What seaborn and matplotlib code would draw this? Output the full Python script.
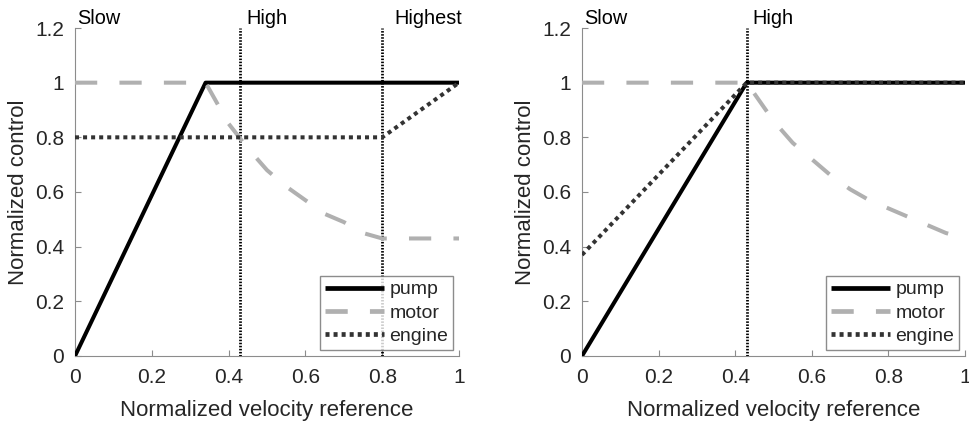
import matplotlib
matplotlib.use("Agg")
import matplotlib.pyplot as plt
import seaborn as sns
import pandas as pd

# ---- data ----
# left panel (three modes)
L_pump_x = [0.0, 0.34, 1.0]
L_pump_y = [0.0, 1.0, 1.0]
L_motor_x = [0.0, 0.34, 0.40, 0.45, 0.50, 0.55, 0.60, 0.65, 0.70, 0.75, 0.80, 1.0]
L_motor_y = [1.0, 1.0, 0.85, 0.76, 0.68, 0.62, 0.57, 0.52, 0.49, 0.45, 0.43, 0.43]
L_engine_x = [0.0, 0.80, 1.0]
L_engine_y = [0.80, 0.80, 1.0]
L_modes_x = [0.43, 0.80]
L_mode_labels = ["Slow", "High", "Highest"]

# right panel (two modes)
R_pump_x = [0.0, 0.43, 1.0]
R_pump_y = [0.0, 1.0, 1.0]
R_motor_x = [0.0, 0.43, 0.50, 0.55, 0.60, 0.65, 0.70, 0.75, 0.80, 0.85, 0.90, 0.95, 1.0]
R_motor_y = [1.0, 1.0, 0.86, 0.78, 0.72, 0.66, 0.61, 0.57, 0.54, 0.51, 0.48, 0.45, 0.43]
R_engine_x = [0.0, 0.43, 1.0]
R_engine_y = [0.37, 1.0, 1.0]
R_modes_x = [0.43]
R_mode_labels = ["Slow", "High"]

x_ticks = [0, 0.2, 0.4, 0.6, 0.8, 1]
x_ticklabels = ["0", "0.2", "0.4", "0.6", "0.8", "1"]
y_ticks = [0, 0.2, 0.4, 0.6, 0.8, 1, 1.2]
y_ticklabels = ["0", "0.2", "0.4", "0.6", "0.8", "1", "1.2"]
series_names = ["pump", "motor", "engine"]

sns.set_style("ticks")
plt.rcParams["font.family"] = ["Liberation Sans", "DejaVu Sans"]
plt.rcParams["lines.scale_dashes"] = False

TXT = "#262626"
AX = "#8c8c8c"
styles = {
    "pump": dict(color="black", lw=2.9, dashes=None),
    "motor": dict(color="#b0b0b0", lw=2.9, dashes=(16, 16)),
    "engine": dict(color="#333333", lw=2.9, dashes=(2.9, 2.9)),
}

fig = plt.figure(figsize=(9.69, 4.23), dpi=100)
axL = fig.add_axes([0.0774, 0.1584, 0.3963, 0.7754])
axR = fig.add_axes([0.6006, 0.1584, 0.3953, 0.7754])


def draw(ax, px, py, mx, my, ex, ey, modes, labels):
    data = {"pump": (px, py), "motor": (mx, my), "engine": (ex, ey)}
    for v in modes:
        ax.axvline(v, color="black", lw=2.0, ls=(0, (1.1, 1.1)), zorder=1)
    for name in series_names:
        xs, ys = data[name]
        df = pd.DataFrame({"x": xs, "y": ys})
        st = styles[name]
        sns.lineplot(data=df, x="x", y="y", ax=ax, color=st["color"], lw=st["lw"],
                     label=name, sort=False, estimator=None, zorder=3)
        line = ax.lines[-1]
        if st["dashes"] is not None:
            line.set_dashes(st["dashes"])
        line.set_solid_capstyle("butt")
        line.set_dash_capstyle("butt")
    ax.set_xlim(0, 1)
    ax.set_ylim(0, 1.2)
    ax.set_xticks(x_ticks)
    ax.set_xticklabels(x_ticklabels)
    ax.set_yticks(y_ticks)
    ax.set_yticklabels(y_ticklabels)
    ax.tick_params(direction="in", length=4, width=0.8, color=AX, labelsize=15,
                   labelcolor=TXT)
    ax.tick_params(axis="x", pad=9)
    ax.tick_params(axis="y", pad=8)
    for s in ["top", "right"]:
        ax.spines[s].set_visible(False)
    for s in ["left", "bottom"]:
        ax.spines[s].set_color(AX)
        ax.spines[s].set_linewidth(0.8)
    ax.set_xlabel("Normalized velocity reference", fontsize=16, color=TXT, labelpad=9)
    ax.set_ylabel("Normalized control", fontsize=16, color=TXT, labelpad=4)
    # mode labels above axes
    ax.text(0.005, 1.03, labels[0], transform=ax.transAxes, ha="left", va="center",
            fontsize=14.3, color="black")
    ax.text(modes[0] + 0.015, 1.03, labels[1], transform=ax.get_xaxis_transform(),
            ha="left", va="center", fontsize=14.3, color="black")
    if len(labels) > 2:
        ax.text(1.007, 1.03, labels[2], transform=ax.transAxes, ha="right",
                va="center", fontsize=14.3, color="black")
    leg = ax.legend(loc="lower right", frameon=True, fancybox=False, fontsize=14,
                    handlelength=3.0, handletextpad=0.3, borderaxespad=0.3,
                    borderpad=0.25, labelspacing=0.3)
    leg.get_frame().set_edgecolor("#707070")
    leg.get_frame().set_linewidth(1.0)
    for h in leg.get_lines():
        h.set_linewidth(3.4)
    for t in leg.get_texts():
        t.set_color(TXT)


draw(axL, L_pump_x, L_pump_y, L_motor_x, L_motor_y, L_engine_x, L_engine_y,
     L_modes_x, L_mode_labels)
draw(axR, R_pump_x, R_pump_y, R_motor_x, R_motor_y, R_engine_x, R_engine_y,
     R_modes_x, R_mode_labels)

fig.savefig("out.png", dpi=100)
